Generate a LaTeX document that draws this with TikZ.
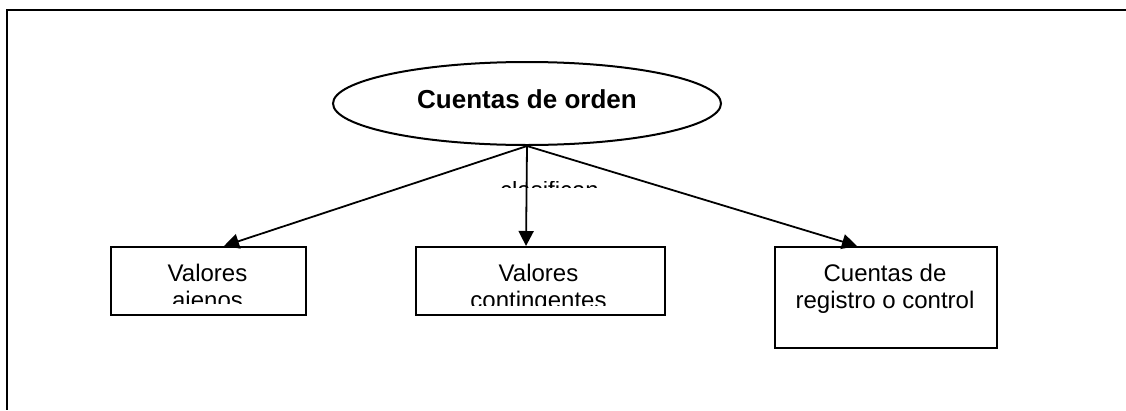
\documentclass[tikz,border=0pt]{standalone}
\usepackage{fontspec}
\setmainfont{Liberation Sans}
\usetikzlibrary{arrows.meta}
\usetikzlibrary{positioning}
\usetikzlibrary{shapes.geometric}

\tikzset{
  caja/.style={rectangle, draw, line width=2pt, inner sep=0pt},
  texto/.style={inner sep=0pt, align=center, font=\fontsize{24}{27}\selectfont},
  flecha/.style={line width=1.8pt, -{Triangle[length=15pt,width=15pt]}},
}

\begin{document}
\begin{tikzpicture}[x=1pt, y=-1pt]
        \useasboundingbox (0,0) rectangle (1126,410);
        \draw[line width=2.5pt] (1126,10) -- (7,10) -- (7,410);

        \node[ellipse, draw, line width=2pt, minimum width=388pt, minimum height=83pt, inner sep=0pt, text depth=9.6pt, font=\fontsize{26}{30}\selectfont\bfseries] (orden) at (527,103.5) {Cuentas de orden};

        \node[caja, minimum width=195pt, minimum height=68pt] (ajenos) at (208.5,281) {};
        \node[caja, minimum width=249pt, minimum height=68pt] (contingentes) at (540.5,281) {};
        \node[caja, minimum width=222pt, minimum height=101pt] (registro) at (886,297.5) {};

        \begin{scope}
            \clip (111,247) rectangle (306,303);
            \node[texto, anchor=north] (ajenos-t) at (207.5,263.8) {Valores\\ajenos};
        \end{scope}
        \begin{scope}
            \clip (416,247) rectangle (665,305);
            \node[texto, anchor=north] (contingentes-t) at (538.5,263.8) {Valores\\contingentes};
        \end{scope}
        \node[texto, anchor=north] (registro-t) at (885,263.8) {Cuentas de\\registro o control};

        \begin{scope}
            \clip (490,181) rectangle (610,187);
            \node[texto, anchor=base] (clasifican) at (549.5,198) {clasifican};
        \end{scope}

        \draw[flecha] (orden.south) -- ([xshift=15.5pt]ajenos.north);
        \draw[flecha] (orden.south) -- ([xshift=-14.5pt]contingentes.north);
        \draw[flecha] (orden.south) -- ([xshift=-29pt]registro.north);
    \end{tikzpicture}
\end{document}
